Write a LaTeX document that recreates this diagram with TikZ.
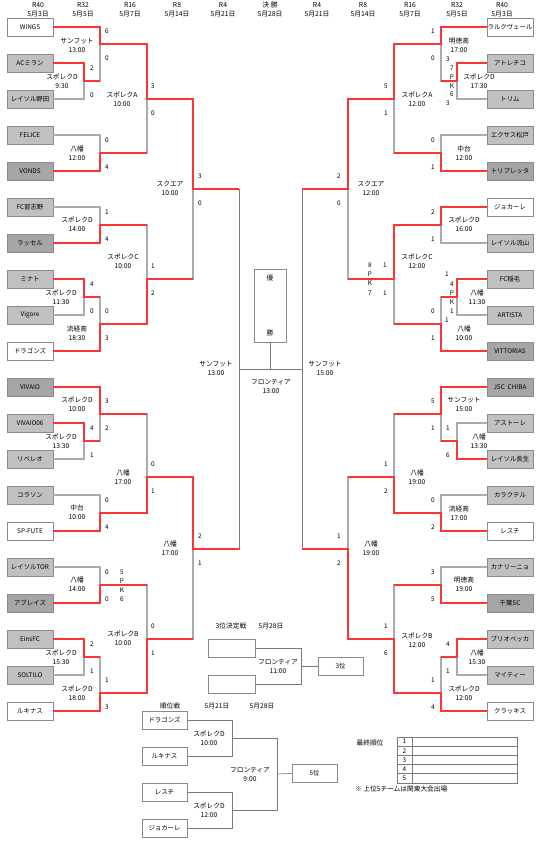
\documentclass[tikz,border=0pt]{standalone}
\usepackage{fontspec}
\setmainfont{Noto Sans CJK JP}
\usetikzlibrary{positioning,calc}
\definecolor{winred}{HTML}{FF3333}
\definecolor{linegray}{HTML}{ABABAB}
\definecolor{darkline}{HTML}{7A7A7A}
\definecolor{boxgray}{HTML}{8A8A8A}
\definecolor{earlygray}{HTML}{C0C0C0}
\definecolor{r16gray}{HTML}{A6A6A6}

\begin{document}
\begin{tikzpicture}[x=1pt, y=-1pt,
  eight/.style={draw=boxgray, line width=0.9pt, fill=white, minimum width=46pt,
    minimum height=18pt, inner sep=0pt, font=\fontsize{6.4}{7}\selectfont},
  early/.style={eight, fill=earlygray},
  last16/.style={eight, fill=r16gray},
  venue/.style={font=\fontsize{6.7}{9}\selectfont, align=center, inner sep=0pt},
  score/.style={font=\fontsize{6.4}{7}\selectfont, inner sep=0pt},
  head/.style={font=\fontsize{6.8}{9}\selectfont, align=center, inner sep=0pt},
  lose/.style={draw=linegray, line width=1.1pt},
  win/.style={draw=winred, line width=1.5pt},
  thinline/.style={draw=darkline, line width=0.7pt}
]
  \useasboundingbox (0,0) rectangle (540,841);

  % Round headers
  \foreach \n/\x/\t in {h1/38/{R40\\5月3日}, h2/83/{R32\\5月5日}, h3/130/{R16\\5月7日},
      h4/177/{R8\\5月14日}, h5/223/{R4\\5月21日}, h6/270/{決\ 勝\\5月28日},
      h7/317/{R4\\5月21日}, h8/363/{R8\\5月14日}, h9/410/{R16\\5月7日},
      h10/457/{R32\\5月5日}, h11/502/{R40\\5月3日}}
    \node[head] (\n) at (\x,9.5) {\t};

  % Left teams
  \node[eight]  (L0)  at (30,27)  {WINGS};
  \node[early]  (L1)  at (30,63)  {ACミラン};
  \node[early]  (L2)  at (30,99)  {レイソル野田};
  \node[early]  (L3)  at (30,135) {FELICE};
  \node[last16] (L4)  at (30,171) {VONDS};
  \node[early]  (L5)  at (30,207) {FC習志野};
  \node[last16] (L6)  at (30,243) {ラッセル};
  \node[early]  (L7)  at (30,279) {ミナト};
  \node[early]  (L8)  at (30,315) {Vigore};
  \node[eight]  (L9)  at (30,351) {ドラゴンズ};
  \node[last16] (L10) at (30,387) {VIVAIO};
  \node[early]  (L11) at (30,423) {VIVAIO06};
  \node[early]  (L12) at (30,459) {リベレオ};
  \node[early]  (L13) at (30,495) {コラソン};
  \node[eight]  (L14) at (30,531) {SP-FUTE};
  \node[early]  (L15) at (30,567) {レイソルTOR};
  \node[last16] (L16) at (30,603) {アブレイズ};
  \node[early]  (L17) at (30,639) {EinsFC};
  \node[early]  (L18) at (30,675) {SOLTILO};
  \node[eight]  (L19) at (30,711) {ルキナス};

  % Right teams
  \node[eight]  (R0)  at (510,27)  {ラルクヴェール};
  \node[early]  (R1)  at (510,63)  {アトレチコ};
  \node[early]  (R2)  at (510,99)  {トリム};
  \node[early]  (R3)  at (510,135) {エクサス松戸};
  \node[last16] (R4)  at (510,171) {トリプレッタ};
  \node[eight]  (R5)  at (510,207) {ジョカーレ};
  \node[early]  (R6)  at (510,243) {レイソル流山};
  \node[early]  (R7)  at (510,279) {FC稲毛};
  \node[early]  (R8)  at (510,315) {ARTISTA};
  \node[last16] (R9)  at (510,351) {VITTORIAS};
  \node[last16] (R10) at (510,387) {JSC\ \ CHIBA};
  \node[early]  (R11) at (510,423) {アストーレ};
  \node[early]  (R12) at (510,459) {レイソル長生};
  \node[early]  (R13) at (510,495) {カラクテル};
  \node[eight]  (R14) at (510,531) {レスチ};
  \node[early]  (R15) at (510,567) {カナリーニョ};
  \node[last16] (R16) at (510,603) {千葉SC};
  \node[early]  (R17) at (510,639) {ブリオベッカ};
  \node[early]  (R18) at (510,675) {マイティー};
  \node[eight]  (R19) at (510,711) {クラッキス};

  % Junctions
  \coordinate (la1) at (84,81);   \coordinate (la2) at (84,297);
  \coordinate (la3) at (84,441);  \coordinate (la4) at (84,657);
  \coordinate (lb1) at (100,44);  \coordinate (lb2) at (100,153);
  \coordinate (lb3) at (100,225); \coordinate (lb4) at (100,324);
  \coordinate (lb5) at (100,414); \coordinate (lb6) at (100,513);
  \coordinate (lb7) at (100,585); \coordinate (lb8) at (100,693);
  \coordinate (lc1) at (147,99);  \coordinate (lc2) at (147,279);
  \coordinate (lc3) at (147,477); \coordinate (lc4) at (147,639);
  \coordinate (ld1) at (193,189); \coordinate (ld2) at (193,549);
  \coordinate (le1) at (239,369);
  \coordinate (ra1) at (457,81);  \coordinate (ra2) at (457,297);
  \coordinate (ra3) at (457,441); \coordinate (ra4) at (457,657);
  \coordinate (rb1) at (441,44);  \coordinate (rb2) at (441,153);
  \coordinate (rb3) at (441,225); \coordinate (rb4) at (441,324);
  \coordinate (rb5) at (441,414); \coordinate (rb6) at (441,513);
  \coordinate (rb7) at (441,585); \coordinate (rb8) at (441,693);
  \coordinate (rc1) at (394,99);  \coordinate (rc2) at (394,279);
  \coordinate (rc3) at (394,477); \coordinate (rc4) at (394,639);
  \coordinate (rd1) at (348,189); \coordinate (rd2) at (348,549);
  \coordinate (re1) at (302,369);

  % Bracket lines
  \foreach \a/\b in {L1.east/la1, L2.east/la1, L0.east/lb1, la1/lb1, L3.east/lb2, L4.east/lb2,
      lb1/lc1, lb2/lc1, L5.east/lb3, L6.east/lb3, L7.east/la2, L8.east/la2, la2/lb4, L9.east/lb4,
      lb3/lc2, lb4/lc2, lc1/ld1, lc2/ld1,
      L11.east/la3, L12.east/la3, L10.east/lb5, la3/lb5, L13.east/lb6, L14.east/lb6,
      lb5/lc3, lb6/lc3, L15.east/lb7, L16.east/lb7, L17.east/la4, L18.east/la4, la4/lb8, L19.east/lb8,
      lb7/lc4, lb8/lc4, lc3/ld2, lc4/ld2,
      R1.west/ra1, R2.west/ra1, R0.west/rb1, ra1/rb1, R3.west/rb2, R4.west/rb2,
      rb1/rc1, rb2/rc1, R5.west/rb3, R6.west/rb3, R7.west/ra2, R8.west/ra2, ra2/rb4, R9.west/rb4,
      rb3/rc2, rb4/rc2, rc1/rd1, rc2/rd1,
      R11.west/ra3, R12.west/ra3, R10.west/rb5, ra3/rb5, R13.west/rb6, R14.west/rb6,
      rb5/rc3, rb6/rc3, R15.west/rb7, R16.west/rb7, R17.west/ra4, R18.west/ra4, ra4/rb8, R19.west/rb8,
      rb7/rc4, rb8/rc4, rc3/rd2, rc4/rd2}
    \draw[lose] (\a) -| (\b);

  \draw[thinline] (ld1) -| (le1);
  \draw[thinline] (ld2) -| (le1);
  \draw[thinline] (rd1) -| (re1);
  \draw[thinline] (rd2) -| (re1);
  \draw[thinline] (le1) -- (re1);

  % Winners
  \draw[win] (L0.east) -| (lb1) -| (lc1) -| (ld1) -- (ld1 -| le1);
  \draw[win] (L1.east) -| (la1) -- (la1 -| lb1);
  \draw[win] (L4.east) -| (lb2) -- (lb2 -| lc1);
  \draw[win] (L6.east) -| (lb3) -- (lb3 -| lc2);
  \draw[win] (L7.east) -| (la2) -- (la2 -| lb4);
  \draw[win] (L9.east) -| (lb4) -| (lc2) -- (lc2 -| ld1);
  \draw[win] (L10.east) -| (lb5) -- (lb5 -| lc3);
  \draw[win] (L11.east) -| (la3) -- (la3 -| lb5);
  \draw[win] (L14.east) -| (lb6) -| (lc3) -| (ld2) -- (ld2 -| le1);
  \draw[win] (L16.east) -| (lb7) -- (lb7 -| lc4);
  \draw[win] (L17.east) -| (la4) -- (la4 -| lb8);
  \draw[win] (L19.east) -| (lb8) -| (lc4) -- (lc4 -| ld2);
  \draw[win] (R0.west) -| (rb1) -| (rc1) -| (rd1) -- (rd1 -| re1);
  \draw[win] (R1.west) -| (ra1) -- (ra1 -| rb1);
  \draw[win] (R4.west) -| (rb2) -- (rb2 -| rc1);
  \draw[win] (R5.west) -| (rb3) -| (rc2) -- (rc2 -| rd1);
  \draw[win] (R7.west) -| (ra2) -- (ra2 -| rb4);
  \draw[win] (R9.west) -| (rb4) -- (rb4 -| rc2);
  \draw[win] (R10.west) -| (rb5) -- (rb5 -| rc3);
  \draw[win] (R12.west) -| (ra3) -- (ra3 -| rb5);
  \draw[win] (R14.west) -| (rb6) -| (rc3) -- (rc3 -| rd2);
  \draw[win] (R16.west) -| (rb7) -- (rb7 -| rc4);
  \draw[win] (R17.west) -| (ra4) -- (ra4 -| rb8);
  \draw[win] (R19.west) -| (rb8) -| (rc4) -| (rd2) -- (rd2 -| re1);

  % Champion
  \node[eight, minimum width=32pt, minimum height=73pt] (champ) at (270,305.5) {};
  \node[venue, below=6pt of champ.north] (champ1) {優};
  \node[venue, above=6pt of champ.south] (champ2) {勝};
  \draw[thinline] (champ.south) -- (champ.south |- le1);

  % Scores
  \foreach \j/\dx/\a/\b in {la1/8/2/0, lb1/7/6/0, lc1/6/3/0, lb2/7/0/4, ld1/7/3/0, lb3/7/1/4,
      lc2/6/1/2, la2/8/4/0, lb4/7/0/3, lb5/7/3/2, la3/8/4/1, lc3/6/0/1, lb6/7/0/4, ld2/7/2/1,
      lb7/7/0/0, lc4/6/0/1, la4/8/2/1, lb8/7/1/3,
      rb1/-8/1/0, rc1/-8/5/1, rb2/-8/0/1, rd1/-9/2/0, rb3/-8/2/1, rb4/-8/0/1,
      rb5/-8/5/1, ra3/-9/1/6, rc3/-8/1/2, rb6/-8/0/2, rd2/-9/1/2, rb7/-8/3/5, rc4/-8/1/6,
      ra4/-9/4/1, rb8/-8/1/4} {
    \node[score] (\j-t) at ([shift={(\dx,-12.5)}]\j) {\a};
    \node[score] (\j-b) at ([shift={(\dx,14)}]\j) {\b};
  }
  % PK scores
  \foreach \j/\dx/\dy/\t/\n in {lb7/22/-13/5/1, lb7/22/-4/P/2, lb7/22/5/K/3, lb7/22/14/6/4,
      ra1/-9/-22/3/1, ra1/-5/-13/7/2, ra1/-5/-4/P/3, ra1/-5/5/K/4, ra1/-5/13/6/5, ra1/-9/22/3/6,
      ra2/-10/-23/1/1, ra2/-5/-13/4/2, ra2/-5/-4/P/3, ra2/-5/5/K/4, ra2/-5/14/1/5, ra2/-10/23/1/6,
      rc2/-9/-14/1/1, rc2/-9/14/1/2, rc2/-24/-14/8/3, rc2/-24/-5/P/4, rc2/-24/4/K/5, rc2/-24/14/7/6}
    \node[score] (\j-pk\n) at ([shift={(\dx,\dy)}]\j) {\t};

  % Venues
  \foreach \n/\x/\y/\t in {la1/62/81/{スポレクD\\9:30}, lb1/77/45.5/{サンフット\\13:00},
      lc1/122/99/{スポレクA\\10:00}, lb2/77/153/{八幡\\12:00}, ld1/170/188.5/{スクエア\\10:00},
      lb3/77/224.5/{スポレクD\\14:00}, lc2/123/261.5/{スポレクC\\10:00},
      la2/61/297.5/{スポレクD\\11:30}, lb4/77/333/{流経高\\18:30}, le1/216/368.5/{サンフット\\13:00},
      lb5/77/404.5/{スポレクD\\10:00}, la3/61/441.5/{スポレクD\\13:30}, lc3/123/477.5/{八幡\\17:00},
      lb6/77/512.5/{中台\\10:00}, ld2/170/548.5/{八幡\\17:00}, lb7/77/584.5/{八幡\\14:00},
      lc4/123/638.5/{スポレクB\\10:00}, la4/61/657.5/{スポレクD\\15:30}, lb8/77/693.5/{スポレクD\\18:00},
      ra1/479/81/{スポレクD\\17:30}, rb1/459/45.5/{明徳高\\17:00}, rc1/417/99/{スポレクA\\12:00},
      rb2/464/153/{中台\\12:00}, rd1/371/188.5/{スクエア\\12:00}, rb3/464/224.5/{スポレクD\\16:00},
      rc2/417/261.5/{スポレクC\\12:00}, ra2/477/297.5/{八幡\\11:30}, rb4/464/333/{八幡\\10:00},
      re1/325/368.5/{サンフット\\15:00}, rb5/464/404.5/{サンフット\\15:00},
      ra3/479/441.5/{八幡\\13:30}, rc3/417/477.5/{八幡\\19:00}, rb6/459/513.5/{流経高\\17:00},
      rd2/371/548.5/{八幡\\19:00}, rb7/464/584.5/{明徳高\\19:00}, rc4/417/640/{スポレクB\\12:00},
      ra4/477/657.5/{八幡\\15:30}, rb8/464/693.5/{スポレクD\\12:00}, fin/271/386.5/{フロンティア\\13:00}}
    \node[venue] (v-\n) at (\x,\y) {\t};

  % 3rd place
  \node[venue] (third_t) at (231,626) {3位決定戦};
  \node[venue] (third_d) at (271,626) {5月28日};
  \node[eight, minimum width=47pt] (tp1) at (231.5,648) {};
  \node[eight, minimum width=47pt] (tp2) at (231.5,684) {};
  \node[eight, minimum width=45pt] (third) at (340.5,666) {3位};
  \coordinate (j3) at (301,666);
  \draw[thinline] (tp1.east) -| (j3);
  \draw[thinline] (tp2.east) -| (j3);
  \draw[thinline] (j3) -- (third.west);
  \node[venue] (v-third) at (278,666.5) {フロンティア\\11:00};

  % Placement games
  \node[venue] (rank_t) at (170,706) {順位戦};
  \node[venue] (rank_d1) at (217,706) {5月21日};
  \node[venue] (rank_d2) at (262,706) {5月28日};
  \node[eight, minimum width=45pt] (c1) at (164.5,720) {ドラゴンズ};
  \node[eight, minimum width=45pt] (c2) at (164.5,756) {ルキナス};
  \node[eight, minimum width=45pt] (c3) at (164.5,792) {レスチ};
  \node[eight, minimum width=45pt] (c4) at (164.5,828) {ジョカーレ};
  \node[eight, minimum width=45pt] (fifth) at (314.5,773.5) {5位};
  \coordinate (k1) at (232,738);
  \coordinate (k2) at (232,810);
  \coordinate (k3) at (277,774);
  \draw[thinline] (c1.east) -| (k1);
  \draw[thinline] (c2.east) -| (k1);
  \draw[thinline] (c3.east) -| (k2);
  \draw[thinline] (c4.east) -| (k2);
  \draw[thinline] (k1) -| (k3);
  \draw[thinline] (k2) -| (k3);
  \draw[thinline] (k3) -- (fifth.west);
  \node[venue] (v-k1) at (209,738) {スポレクD\\10:00};
  \node[venue] (v-k2) at (209,810.5) {スポレクD\\12:00};
  \node[venue] (v-k3) at (250,774.5) {フロンティア\\9:00};

  % Final ranking
  \node[venue] (final_t) at (370,743) {最終順位};
  \draw[thinline] (397,737) rectangle (517,783);
  \draw[thinline] (412,737) -- (412,783);
  \foreach \k in {1,...,4}
    \draw[thinline] (397,737+9.2*\k) -- (517,737+9.2*\k);
  \foreach \k in {1,...,5}
    \node[score] (rank\k) at (404.5,732.4+9.2*\k) {\k};
  \node[venue, anchor=west] (note) at (355,789) {※ 上位5チームは関東大会出場};
\end{tikzpicture}
\end{document}
